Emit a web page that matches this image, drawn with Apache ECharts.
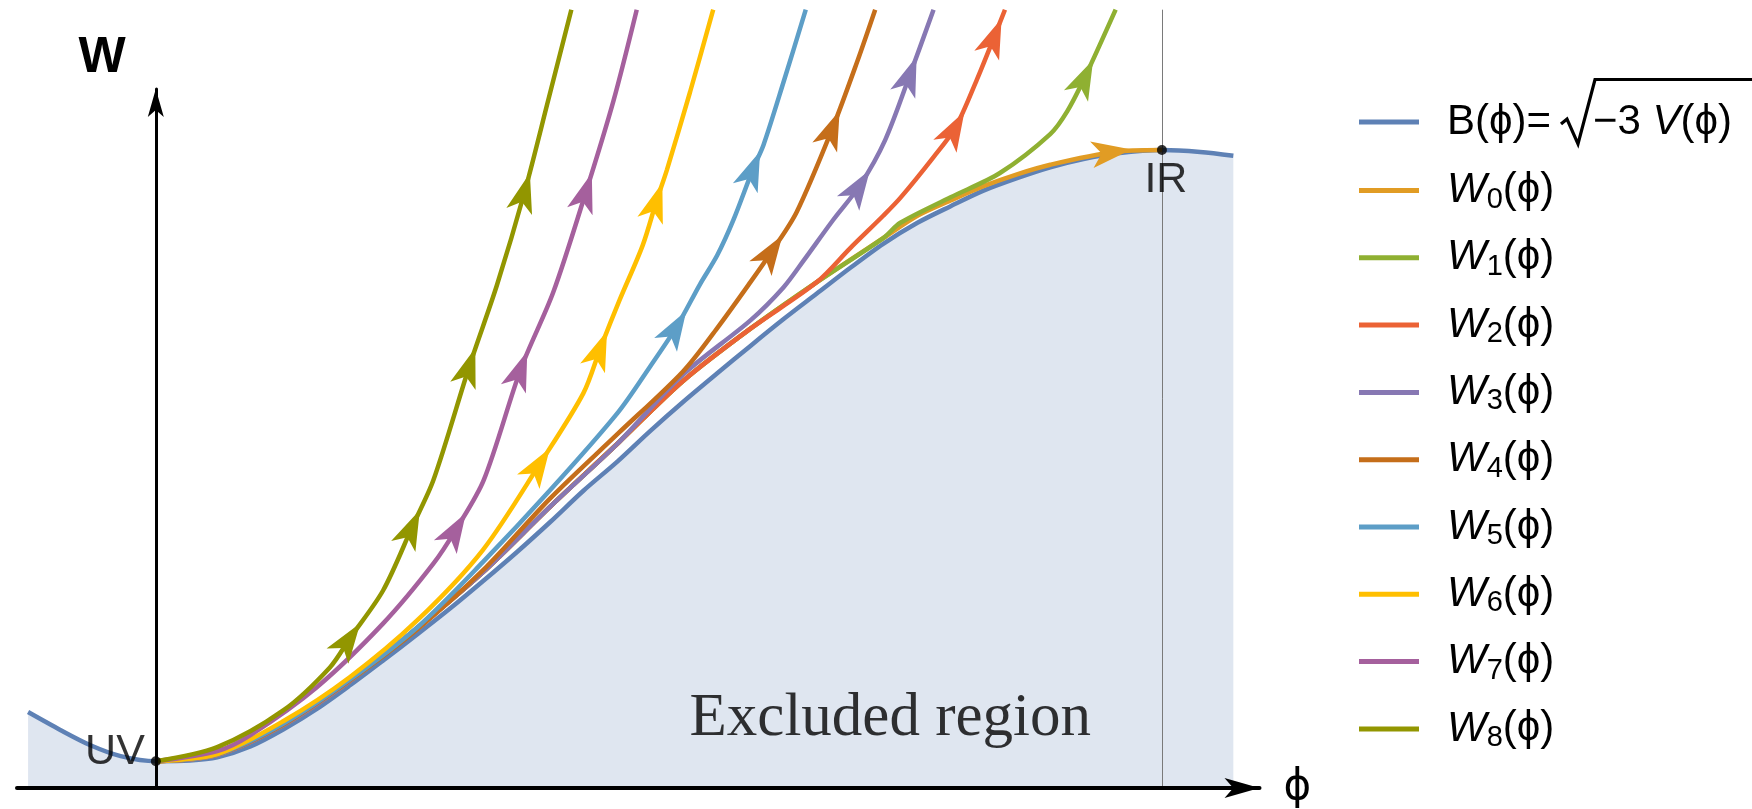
<!DOCTYPE html>
<html>
<head>
<meta charset="utf-8">
<script src="https://cdn.jsdelivr.net/npm/echarts@6/dist/echarts.min.js"></script>
<style>
  html, body { margin: 0; padding: 0; background: #ffffff; }
  #main { width: 1752px; height: 809px; }
</style>
</head>
<body>
<div id="main"></div>
<script>
// Units: UV fixed point at phi = 0, IR fixed point at phi = 1, W(IR) = 1.

// Bound B(phi) = sqrt(-3 V(phi)); everything under it is excluded.
const boundary = [
  [-0.127, 0.119], [-0.095, 0.091], [-0.065, 0.067], [-0.035, 0.050], [0, 0.042],
  [0.034, 0.043], [0.061, 0.048], [0.094, 0.065], [0.127, 0.092], [0.160, 0.124],
  [0.193, 0.161], [0.226, 0.200], [0.260, 0.241], [0.293, 0.282], [0.325, 0.324],
  [0.359, 0.370], [0.392, 0.417], [0.425, 0.466], [0.459, 0.512], [0.491, 0.559],
  [0.524, 0.605], [0.558, 0.650], [0.591, 0.693], [0.624, 0.735], [0.657, 0.775],
  [0.690, 0.815], [0.723, 0.853], [0.757, 0.886], [0.790, 0.912], [0.822, 0.936],
  [0.856, 0.956], [0.889, 0.973], [0.922, 0.986], [0.956, 0.995], [1.000, 1.000],
  [1.038, 0.997], [1.071, 0.991]
];

// Flows W_n(phi), all leaving the UV point.
const flowW0 = [
  [0, 0.042], [0.061, 0.052], [0.127, 0.099], [0.193, 0.168], [0.260, 0.251],
  [0.325, 0.338], [0.392, 0.441], [0.459, 0.540], [0.524, 0.638], [0.591, 0.720],
  [0.657, 0.793], [0.723, 0.862], [0.757, 0.897], [0.790, 0.921], [0.822, 0.943],
  [0.856, 0.962], [0.889, 0.977], [0.952, 0.997], [1.000, 1.000]
];
const flowW1 = [
  [0, 0.042], [0.061, 0.052], [0.127, 0.099], [0.193, 0.168], [0.260, 0.251],
  [0.325, 0.338], [0.392, 0.441], [0.459, 0.540], [0.524, 0.638], [0.591, 0.720],
  [0.657, 0.793], [0.723, 0.862], [0.740, 0.886], [0.790, 0.926], [0.839, 0.964],
  [0.889, 1.025], [0.906, 1.061], [0.924, 1.116], [0.954, 1.220]
];
const flowW2 = [
  [0, 0.042], [0.061, 0.052], [0.127, 0.099], [0.193, 0.168], [0.260, 0.251],
  [0.325, 0.338], [0.392, 0.441], [0.459, 0.540], [0.524, 0.638], [0.591, 0.720],
  [0.657, 0.793], [0.690, 0.846], [0.723, 0.897], [0.740, 0.925], [0.773, 0.989],
  [0.795, 1.036], [0.816, 1.110], [0.834, 1.180], [0.844, 1.220]
];
const flowW3 = [
  [0, 0.042], [0.061, 0.052], [0.127, 0.099], [0.193, 0.168], [0.260, 0.251],
  [0.325, 0.338], [0.392, 0.441], [0.459, 0.540], [0.524, 0.648], [0.591, 0.733],
  [0.624, 0.785], [0.644, 0.827], [0.673, 0.890], [0.700, 0.945], [0.725, 1.016],
  [0.750, 1.120], [0.773, 1.220]
];
const flowW4 = [
  [0, 0.042], [0.061, 0.053], [0.127, 0.100], [0.193, 0.169], [0.260, 0.249],
  [0.325, 0.341], [0.392, 0.454], [0.459, 0.555], [0.524, 0.653], [0.558, 0.721],
  [0.591, 0.793], [0.613, 0.843], [0.637, 0.903], [0.673, 1.036], [0.697, 1.138],
  [0.715, 1.220]
];
const flowW5 = [
  [0, 0.042], [0.061, 0.053], [0.127, 0.101], [0.193, 0.170], [0.260, 0.252],
  [0.325, 0.354], [0.392, 0.467], [0.459, 0.588], [0.491, 0.660], [0.518, 0.724],
  [0.541, 0.790], [0.558, 0.835], [0.574, 0.890], [0.594, 0.972], [0.604, 1.008],
  [0.624, 1.107], [0.646, 1.220]
];
const flowW6 = [
  [0, 0.042], [0.061, 0.053], [0.127, 0.105], [0.193, 0.174], [0.260, 0.263],
  [0.325, 0.373], [0.382, 0.509], [0.425, 0.619], [0.442, 0.690], [0.461, 0.765],
  [0.484, 0.851], [0.498, 0.922], [0.508, 0.969], [0.531, 1.091], [0.554, 1.220]
];
const flowW7 = [
  [0, 0.042], [0.061, 0.058], [0.094, 0.083], [0.160, 0.158], [0.226, 0.258],
  [0.276, 0.352], [0.299, 0.407], [0.326, 0.483], [0.363, 0.658], [0.395, 0.777],
  [0.428, 0.937], [0.455, 1.078], [0.478, 1.220]
];
const flowW8 = [
  [0, 0.042], [0.061, 0.064], [0.127, 0.122], [0.173, 0.189], [0.193, 0.235],
  [0.226, 0.310], [0.255, 0.410], [0.276, 0.483], [0.312, 0.663], [0.339, 0.788],
  [0.367, 0.937], [0.390, 1.078], [0.413, 1.220]
];

// Which vertices of each flow carry a direction arrowhead.
const arrowsW0 = [17];
const arrowsW1 = [17];
const arrowsW2 = [15, 17];
const arrowsW3 = [13, 15];
const arrowsW4 = [11, 13];
const arrowsW5 = [9, 13];
const arrowsW6 = [6, 8, 11];
const arrowsW7 = [6, 8, 10];
const arrowsW8 = [4, 6, 8, 10];

const boundName = 'B';
const flowNames = ['W0', 'W1', 'W2', 'W3', 'W4', 'W5', 'W6', 'W7', 'W8'];
const fixedPointNames = ['UV', 'IR'];
const fixedPoints = [[0, 0.042], [1, 1]];
const regionLabel = 'Excluded region';
const regionLabelAt = [0.730, 0.108];

const flows = [flowW0, flowW1, flowW2, flowW3, flowW4, flowW5, flowW6, flowW7, flowW8];
const flowArrows = [arrowsW0, arrowsW1, arrowsW2, arrowsW3, arrowsW4, arrowsW5, arrowsW6, arrowsW7, arrowsW8];

// Mathematica-style palette: bound first, then W0..W8
const palette = ['#5E81B5', '#E19C24', '#8FB032', '#EB6235', '#8778B3',
                 '#C56E1A', '#5D9EC7', '#FFBF00', '#A5609D', '#929600'];
const SANS = 'Liberation Sans, DejaVu Sans, sans-serif';
const LINE_W = 4.5;
const ARROW_SIZE = [20, 40];
const ARROW_SHIFT = 18;   // px, moves the arrowhead forward so it is centred on its vertex

const chart = echarts.init(document.getElementById('main'), null, { renderer: 'canvas' });

const legendRich = {
  t: { fontSize: 42, fontFamily: SANS, color: '#000', lineHeight: 40 },
  v: { fontSize: 42, fontFamily: SANS, fontStyle: 'italic', color: '#000', lineHeight: 40 },
  w: { fontSize: 42, fontFamily: SANS, fontStyle: 'italic', color: '#000', lineHeight: 40 },
  s: { fontSize: 29, fontFamily: SANS, color: '#000', lineHeight: 40, padding: [18, 0, 0, 0] },
  rad: { fontSize: 42, fontFamily: SANS, width: 42, lineHeight: 40 }
};

function legendText(name) {
  if (name === boundName) {
    // room is left after "=" for the radical sign, drawn as a graphic below
    return '{t|B(ϕ)=}{rad| }{t|−3}{v| V}{t|(ϕ)}';
  }
  return '{w|W}{s|' + name.slice(1) + '}{t|(ϕ)}';
}

function legendBlock(names, top) {
  return {
    data: names, orient: 'vertical', left: 1359, top: top, padding: 0,
    itemGap: 20.3, itemWidth: 60, itemHeight: 5, icon: 'rect', selectedMode: false,
    formatter: legendText,
    textStyle: { padding: [0, 0, 0, 23], rich: legendRich }
  };
}

function makeOption(arrowGeom) {
  const series = [];
  series.push({
    name: boundName, type: 'line', data: boundary, smooth: 0.3,
    symbol: 'none', silent: true, z: 2,
    lineStyle: { color: palette[0], width: LINE_W },
    itemStyle: { color: palette[0] },
    areaStyle: { color: '#dfe6f0', opacity: 1, origin: 0 },
    markLine: {
      silent: true, symbol: 'none', label: { show: false },
      lineStyle: { color: '#7a7a7a', width: 1, type: 'solid' },
      data: [{ xAxis: fixedPoints[1][0] }]
    }
  });
  flows.forEach(function (pts, k) {
    const data = pts.map(function (p, i) {
      const j = flowArrows[k].indexOf(i);
      if (j < 0) return { value: p, symbol: 'none' };
      const g = arrowGeom ? arrowGeom[k][j] : { rotate: 0, offset: [0, 0] };
      return { value: p, symbol: 'arrow', symbolSize: ARROW_SIZE,
               symbolRotate: g.rotate, symbolOffset: g.offset };
    });
    series.push({
      name: flowNames[k], type: 'line', data: data,
      smooth: 0.3, showSymbol: true, symbol: 'none',
      silent: true, z: 3,
      lineStyle: { color: palette[k + 1], width: LINE_W },
      itemStyle: { color: palette[k + 1], borderWidth: 0 }
    });
  });
  series.push({
    type: 'scatter', silent: true, z: 10, symbol: 'circle', symbolSize: 10,
    itemStyle: { color: '#000' },
    data: fixedPoints.map(function (p, i) {
      const isUV = i === 0;
      return {
        value: p,
        label: {
          show: true, formatter: fixedPointNames[i], color: '#000',
          fontFamily: SANS, fontSize: 43,
          position: isUV ? 'left' : 'bottom',
          distance: isUV ? 6 : 4,
          offset: isUV ? [0, -9] : [4, 0]
        }
      };
    })
  });
  series.push({
    type: 'scatter', silent: true, z: 4, symbol: 'circle', symbolSize: 1,
    itemStyle: { color: 'rgba(0,0,0,0)' },
    data: [{
      value: regionLabelAt,
      label: { show: true, position: 'inside', formatter: regionLabel, color: '#000',
               fontFamily: 'Liberation Serif, DejaVu Serif, serif', fontSize: 61 }
    }]
  });

  return {
    animation: false,
    backgroundColor: '#ffffff',
    grid: [
      { left: 17, right: 492.5, top: 9.7, bottom: 21, outerBoundsMode: 'none' },
      { left: 155.8, right: 492.5, top: 89, bottom: 21, outerBoundsMode: 'none' }
    ],
    xAxis: [
      {
        gridIndex: 0, type: 'value', min: -0.138, max: 1.097, z: 5,
        axisLine: { show: true, onZero: false, lineStyle: { color: '#000', width: 4 },
                    symbol: ['none', 'arrow'], symbolSize: [15, 35] },
        axisTick: { show: false }, axisLabel: { show: false }, splitLine: { show: false },
        name: 'ϕ', nameLocation: 'end', nameGap: 24,
        nameTextStyle: { fontSize: 42, fontFamily: 'DejaVu Sans', color: '#000',
                         align: 'left', verticalAlign: 'middle' }
      },
      { gridIndex: 1, type: 'value', min: 0, max: 1, show: false }
    ],
    yAxis: [
      { gridIndex: 0, type: 'value', min: 0, max: 1.22, show: false },
      {
        gridIndex: 1, type: 'value', min: 0, max: 1, z: 5,
        axisLine: { show: true, onZero: false, lineStyle: { color: '#000', width: 3 },
                    symbol: ['none', 'arrow'], symbolSize: [12, 28] },
        axisTick: { show: false }, axisLabel: { show: false }, splitLine: { show: false },
        name: 'W', nameLocation: 'end', nameGap: 6,
        nameTextStyle: { fontSize: 50, fontWeight: 'bold', fontFamily: SANS, color: '#000',
                         align: 'right', verticalAlign: 'bottom', padding: [0, 30, 0, 0] }
      }
    ],
    legend: [legendBlock([boundName], 101), legendBlock(flowNames, 167)],
    graphic: [
      // radical sign and vinculum of the square root in the legend entry
      { type: 'polyline', silent: true, z: 100,
        shape: { points: [[1561, 124], [1567, 119], [1578, 144], [1595, 79.5], [1752, 79.5]] },
        style: { stroke: '#000', lineWidth: 3.2, fill: null, lineJoin: 'miter' } }
    ],
    series: series
  };
}

chart.setOption(makeOption(null));

// Orient each arrowhead along the local screen direction of its curve.
const arrowGeom = flows.map(function (pts, k) {
  return flowArrows[k].map(function (i) {
    const a = chart.convertToPixel({ gridIndex: 0 }, pts[i - 1]);
    const b = chart.convertToPixel({ gridIndex: 0 }, pts[Math.min(i + 1, pts.length - 1)]);
    const dx = b[0] - a[0];
    const dy = b[1] - a[1];
    const len = Math.sqrt(dx * dx + dy * dy) || 1;
    return {
      rotate: Math.atan2(-dy, dx) * 180 / Math.PI - 90,
      offset: [dx / len * ARROW_SHIFT, dy / len * ARROW_SHIFT]
    };
  });
});
chart.setOption(makeOption(arrowGeom), true);
</script>
</body>
</html>
